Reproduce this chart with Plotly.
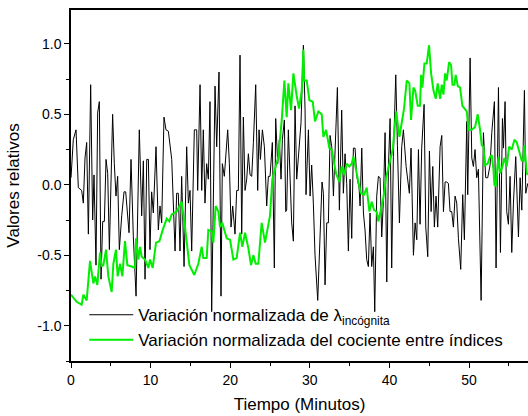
import plotly.graph_objects as go

# Black series: normalized variation of lambda (time in minutes, relative value)
lam_t = [0.0, 0.29, 0.63, 0.92, 1.34, 1.55, 1.76, 1.97, 2.18, 2.47, 2.72, 2.89, 3.14, 3.35, 3.56, 3.77,
         3.98, 4.19, 4.40, 4.61, 4.82, 5.23, 5.44, 5.65, 5.86, 6.07, 6.37, 6.66, 6.87, 7.08, 7.29, 7.54,
         7.83, 8.17, 8.38, 8.58, 8.88, 9.09, 9.30, 9.51, 9.72, 9.92, 10.13, 10.34, 10.68, 10.97, 11.18,
         11.39, 11.68, 11.93, 12.23, 12.65, 13.07, 13.27, 13.48, 13.69, 13.90, 14.20, 14.53, 14.74,
         14.95, 15.16, 15.49, 15.79, 15.91, 16.21, 16.42, 16.62, 16.83, 17.04, 17.25, 17.46, 17.67,
         17.88, 18.09, 18.30, 18.59, 18.84, 19.01, 19.26, 19.47, 19.68, 19.89, 20.10, 20.31, 20.60,
         20.81, 21.02, 21.23, 21.44, 21.65, 21.86, 22.07, 22.28, 22.49, 22.70, 22.91, 23.20, 23.45,
         23.62, 23.79, 24.04, 24.29, 24.58, 24.79, 25.00, 25.29, 25.54, 25.71, 25.96, 26.17, 26.38,
         26.55, 26.80, 26.97, 27.09, 27.30, 27.51, 27.72, 27.93, 28.14, 28.35, 28.64, 28.89, 29.19,
         29.40, 29.52, 29.82, 30.03, 30.23, 30.44, 30.65, 30.99, 31.28, 31.53, 31.70, 31.91, 32.12,
         32.33, 32.54, 32.75, 32.96, 33.17, 33.46, 33.71, 34.00, 34.21, 34.42, 34.63, 34.84, 35.05,
         35.26, 35.47, 35.68, 35.89, 36.18, 36.31, 36.52, 36.73, 36.93, 37.14, 37.35, 37.56, 37.77,
         37.98, 38.15, 38.40, 38.61, 38.82, 39.03, 39.24, 39.45, 39.66, 39.87, 40.08, 40.28, 40.49,
         40.79, 41.00, 41.25, 41.54, 41.75, 42.09, 42.25, 42.50, 42.71, 43.01, 43.22, 43.43, 43.64,
         43.84, 44.05, 44.35, 44.56, 44.81, 45.02, 45.23, 45.44, 45.64, 45.85, 46.06, 46.36, 46.57,
         46.78, 46.99, 47.19, 47.40, 47.61, 47.82, 48.03, 48.24, 48.45, 48.66, 48.95, 49.20, 49.41,
         49.71, 49.83, 50.13, 50.34, 50.54, 50.75, 50.96, 51.17, 51.51, 51.80, 52.09, 52.34, 52.64,
         52.85, 53.18, 53.39, 53.69, 53.94, 54.19, 54.32, 54.52, 54.73, 54.94, 55.15, 55.36, 55.57,
         55.86, 56.20, 56.41, 56.62, 56.95, 57.12, 57.37]
lam_v = [0.05, 0.32, 0.39, -0.02, -0.04, -0.13, 0.19, 0.30, -0.35, 0.71, -0.25, 0.07, -0.57, 0.51, 0.59, -0.67,
         -0.26, -0.26, 0.18, 0.08, -0.46, 0.50, 0.15, -0.08, 0.06, -0.46, -0.22, -0.05, -0.05, -0.18, -0.34, 0.18,
         -0.37, -0.79, -0.22, 0.39, -0.22, 0.17, -0.67, 0.18, 0.18, -0.46, -0.05, -0.20, 0.27, -0.32, -0.15,
         -0.27, 0.48, 0.39, 0.38, 0.18, -0.47, -0.06, -0.06, -0.47, 0.06, -0.58, 0.27, -0.13,
         -0.04, -0.47, 0.39, 0.39, -0.04, 0.71, -0.04, 0.39, -0.13, 0.15, 0.04, 0.59, -0.90,
         -0.21, 0.70, 0.27, 0.80, -0.79, 0.15, 0.06, 0.27, 0.39, 0.15, -0.30, -0.15, -0.35,
         -0.04, -0.04, 0.92, -0.35, 0.48, -0.04, 0.04, 0.22, 0.07, 0.06, 0.30, 0.71, -0.04,
         0.39, 0.18, 0.39, 0.27, -0.15, 0.06, 0.06, 0.30, -0.59, 0.47, 0.15, 0.32, 0.04,
         0.32, 0.46, -0.19, -0.18, 0.39, 0.04, -0.27, -0.40, 0.56, 0.04, 0.28, 0.44, 0.99,
         0.53, -0.07, 0.39, -0.08, 0.14, -0.13, -0.50, -0.82, -0.32, 0.02, -0.06, -0.71, -0.27,
         -0.27, 0.35, 0.27, -0.08, 0.20, 0.69, -0.18, 0.53, -0.06, 0.22, 0.01, -0.47, 0.04,
         -0.38, 0.26, 0.26, 0.06, -0.02, -0.15, 0.26, -0.20, -0.32, -0.53, -0.58, -0.20, -0.58,
         -0.44, -0.90, -0.08, 0.06, 0.05, -0.37, -0.11, 0.37, -0.69, 0.13, 0.47, -0.59, 0.20,
         0.78, 0.28, -0.27, 0.27, 0.39, 0.13, 0.04, -0.06, 0.26, -0.50, -0.27, -0.39, 0.25,
         -0.28, 0.26, 0.57, -0.30, -0.51, 0.24, -0.19, 0.13, -0.30, -0.08, -0.30, 0.27, 0.35,
         -0.19, 0.02, 0.02, 0.01, -0.19, -0.19, -0.30, -0.08, -0.13, -0.38, -0.60, -0.07, -0.39,
         0.45, -0.07, 0.90, 0.19, 0.13, 0.25, 0.05, 0.11, -0.82, 0.37, 0.05, 0.05, 0.14,
         0.37, 0.59, -0.59, 0.69, -0.48, 0.47, 0.26, 0.59, -0.19, -0.28, 0.06, -0.48, -0.13,
         0.20, -0.37, 0.05, -0.18, 0.67, -0.06, 0.01]

# Green series: normalized variation of the index ratio
coc_t = [0.0, 0.71, 1.34, 1.55, 1.97, 2.39, 2.81, 3.02, 3.31, 3.64, 3.85, 4.06, 4.40, 4.69, 5.11, 5.32,
         5.65, 5.86, 6.16, 6.45, 6.78, 7.08, 7.62, 8.04, 8.17, 8.46, 8.67, 8.88, 9.30, 9.72, 9.92,
         10.26, 10.68, 11.10, 11.52, 12.02, 12.35, 12.65, 13.27, 13.90, 14.32, 14.87, 15.49, 15.99,
         16.42, 16.62, 17.04, 17.25, 17.67, 17.88, 18.17, 18.51, 18.72, 19.01, 19.26, 19.56, 19.98,
         20.39, 20.81, 21.23, 21.52, 21.86, 22.28, 22.61, 22.91, 23.20, 23.53, 23.95, 24.37, 24.99,
         25.29, 25.63, 26.05, 26.47, 26.80, 27.09, 27.30, 27.64, 27.93, 28.35, 28.64, 28.98, 29.19,
         29.27, 29.61, 29.94, 30.36, 30.65, 31.07, 31.49, 31.70, 32.04, 32.45, 32.75, 32.96, 33.29,
         33.71, 34.00, 34.30, 34.63, 34.97, 35.26, 35.47, 35.82, 36.10, 36.43, 36.81, 37.14, 37.48,
         37.77, 38.07, 38.40, 38.61, 38.91, 39.24, 39.57, 39.99, 40.41, 40.83, 41.25, 41.54, 41.83,
         42.17, 42.50, 42.71, 43.01, 43.22, 43.55, 43.84, 43.97, 44.14, 44.39, 44.68, 44.97, 45.23,
         45.52, 45.81, 46.06, 46.36, 46.57, 46.78, 46.99, 47.19, 47.49, 47.74, 47.91, 48.16, 48.32,
         48.58, 48.87, 49.16, 49.50, 49.71, 49.92, 50.34, 50.75, 51.09, 51.38, 51.59, 51.80, 52.01,
         52.34, 52.64, 52.85, 53.06, 53.18, 53.35, 53.69, 53.89, 54.19, 54.44, 54.73, 55.03, 55.36,
         55.70, 55.99, 56.20, 56.41, 56.62, 56.83, 56.95, 57.25, 57.37]
coc_v = [-0.78, -0.83, -0.85, -0.78, -0.82, -0.54, -0.70, -0.65, -0.71, -0.48, -0.58, -0.57, -0.46, -0.65,
         -0.76, -0.56, -0.46, -0.65, -0.56, -0.65, -0.40, -0.57, -0.58, -0.59, -0.38, -0.53, -0.44, -0.51,
         -0.53, -0.59, -0.53, -0.59, -0.41, -0.40, -0.32, -0.24, -0.26, -0.21, -0.19, -0.12, -0.30, -0.57,
         -0.64, -0.56, -0.44, -0.52, -0.52, -0.32, -0.33, -0.41, -0.15, -0.19, -0.30, -0.27, -0.32, -0.38,
         -0.39, -0.53, -0.52, -0.34, -0.44, -0.34, -0.45, -0.57, -0.50, -0.56, -0.56, -0.27, -0.41, -0.22,
         0.04, 0.11, 0.20, 0.46, 0.74, 0.48, 0.72, 0.53, 0.79, 0.63, 0.54, 0.67, 0.96,
         0.74, 0.74, 0.60, 0.59, 0.45, 0.52, 0.50, 0.34, 0.39, 0.26, 0.25, 0.18, 0.08,
         0.02, 0.13, 0.07, 0.15, 0.13, 0.15, 0.20, 0.09, 0.02, -0.06, -0.07, -0.02, -0.19,
         -0.12, -0.18, -0.19, -0.26, -0.18, -0.09, 0.05, 0.14, 0.25, 0.52, 0.34, 0.44, 0.54,
         0.74, 0.72, 0.46, 0.69, 0.67, 0.56, 0.56, 0.78, 0.69, 0.86, 0.86, 0.99, 0.79,
         0.67, 0.61, 0.72, 0.61, 0.71, 0.64, 0.79, 0.74, 0.87, 0.85, 0.71, 0.71, 0.78,
         0.70, 0.69, 0.56, 0.53, 0.52, 0.39, 0.39, 0.41, 0.50, 0.39, 0.28, 0.27, 0.14,
         0.15, 0.20, 0.21, 0.11, 0.00, -0.01, 0.20, 0.08, 0.13, 0.19, 0.13, 0.27, 0.25,
         0.32, 0.30, 0.25, 0.22, 0.17, 0.17, 0.28, 0.08, 0.07]

x_ticks = [0, 10, 20, 30, 40, 50]
y_ticks = [-1.0, -0.5, 0.0, 0.5, 1.0]
y_tick_labels = ["-1.0", "-0.5", "0.0", "0.5", "1.0"]

font_family = "Liberation Sans, Arial, sans-serif"

fig = go.Figure()
fig.add_trace(go.Scatter(
    x=lam_t, y=lam_v, mode="lines",
    name="Variación normalizada de λ<sub>incógnita</sub>",
    line=dict(color="#000000", width=1)))
fig.add_trace(go.Scatter(
    x=coc_t, y=coc_v, mode="lines",
    name="Variación normalizada del cociente entre índices",
    line=dict(color="#00ee00", width=2)))

fig.update_layout(
    width=528, height=416,
    margin=dict(l=71, r=0, t=10, b=55),
    paper_bgcolor="white", plot_bgcolor="white",
    font=dict(family=font_family, color="#000000", size=14),
    showlegend=True,
    legend=dict(x=0.029, y=0.008, xanchor="left", yanchor="bottom",
                bgcolor="rgba(255,255,255,0)", borderwidth=0,
                font=dict(size=17, family=font_family),
                itemwidth=44, tracegroupgap=0),
    xaxis=dict(range=[0, 57.4], tickvals=x_ticks, showgrid=False, zeroline=False,
               showline=True, linecolor="#000000", linewidth=1.5, mirror=True,
               ticks="outside", ticklen=5, tickwidth=1.2, tickcolor="#000000",
               minor=dict(dtick=5, ticks="outside", ticklen=3, tickwidth=1.2, tickcolor="#000000"),
               tickfont=dict(size=14),
               title=dict(text="Tiempo (Minutos)", font=dict(size=17), standoff=12)),
    yaxis=dict(range=[-1.25, 1.24], tickvals=y_ticks, ticktext=y_tick_labels,
               showgrid=False, zeroline=False,
               showline=True, linecolor="#000000", linewidth=1.5,
               ticks="outside", ticklen=5, tickwidth=1.2, tickcolor="#000000",
               minor=dict(dtick=0.25, tick0=0, ticks="outside", ticklen=3, tickwidth=1.2, tickcolor="#000000"),
               tickfont=dict(size=14),
               title=dict(text="Valores relativos", font=dict(size=17), standoff=13)),
)

fig.write_html("out.html", config={"displayModeBar": False},
               post_script="document.body.style.margin='0px';")
